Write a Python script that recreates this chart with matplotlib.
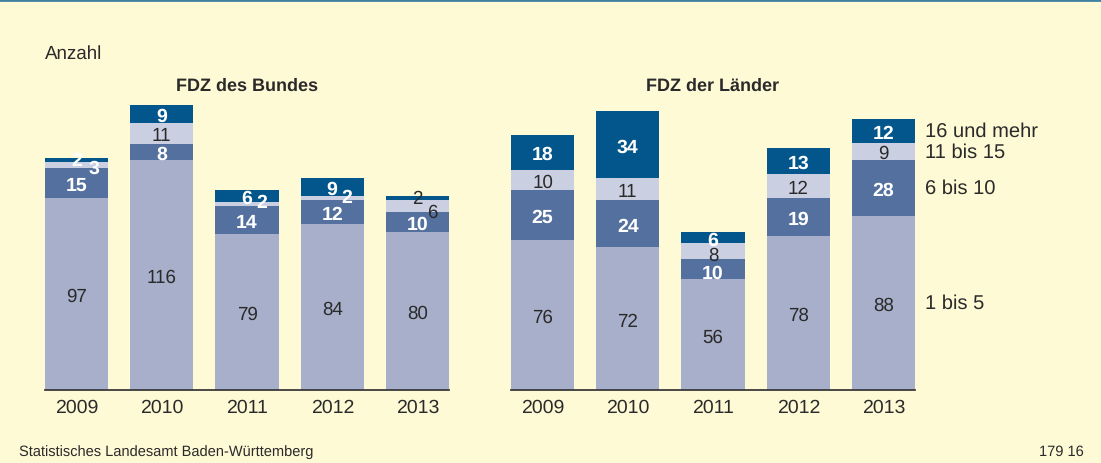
import matplotlib
matplotlib.use("Agg")
import matplotlib.pyplot as plt
from matplotlib.lines import Line2D

plt.rcParams['font.family'] = ['Liberation Sans', 'DejaVu Sans']
plt.rcParams['text.hinting'] = 'no_hinting'

years = ['2009', '2010', '2011', '2012', '2013']
series_names = ['1 bis 5', '6 bis 10', '11 bis 15', '16 und mehr']

# FDZ des Bundes
bund_1_5 = [97, 116, 79, 84, 80]
bund_6_10 = [15, 8, 14, 12, 10]
bund_11_15 = [3, 11, 2, 2, 6]
bund_16 = [2, 9, 6, 9, 2]

# FDZ der Länder
laender_1_5 = [76, 72, 56, 78, 88]
laender_6_10 = [25, 24, 10, 19, 28]
laender_11_15 = [10, 11, 8, 12, 9]
laender_16 = [18, 34, 6, 13, 12]

colors = ['#a8afca', '#53709f', '#cbcfe2', '#02568b']
bg = '#fffad6'
dark = '#2a2a2a'

# label tweaks for thin segments: (panel, year, series) -> dx px, dy px, colour, weight
tweaks = {
    (0, 0, 2): (17, -1, 'white', 'bold'),
    (0, 0, 3): (0, 2, 'white', 'bold'),
    (0, 2, 2): (15, 4, 'white', 'bold'),
    (0, 3, 2): (15, 3, 'white', 'bold'),
    (0, 4, 3): (0, 2, dark, 'normal'),
    (0, 4, 2): (15, -4, dark, 'normal'),
    (1, 2, 3): (0, 0, 'white', 'bold'),
    (1, 2, 2): (0, -2, dark, 'normal'),
    (1, 2, 1): (0, -2, 'white', 'bold'),
}

fig = plt.figure(figsize=(11.01, 4.64), dpi=100, facecolor=bg)
fig.add_artist(Line2D([0, 1], [1 - 1 / 464, 1 - 1 / 464], color='#3f81a3', lw=2))

W, H = 1101, 464
width = 0.74
panels = [
    ('FDZ des Bundes', [bund_1_5, bund_6_10, bund_11_15, bund_16], 45),
    ('FDZ der Länder', [laender_1_5, laender_6_10, laender_11_15, laender_16], 511),
]

for p, (title, data, left) in enumerate(panels):
    ax = fig.add_axes([left / W, 73 / H, 404 / W, 297 / H])
    ax.set_facecolor(bg)
    x = list(range(len(years)))
    bottoms = [0] * len(years)
    for s, vals in enumerate(data):
        ax.bar(x, vals, width, bottom=bottoms, color=colors[s], linewidth=0)
        for i, v in enumerate(vals):
            cy = bottoms[i] + v / 2
            if s in (1, 3):
                col, wt = 'white', 'bold'
            else:
                col, wt = dark, 'normal'
            dx, dy = 0, 0
            if (p, i, s) in tweaks:
                dx, dy, col, wt = tweaks[(p, i, s)]
            ax.annotate(str(v), xy=(i, cy), xytext=(dx * 0.72, dy * 0.72),
                        textcoords='offset points', ha='center',
                        va='center_baseline',
                        fontsize=14 if wt == 'bold' else 13.5,
                        color=col, fontweight=wt, annotation_clip=False)
            if p == 1 and i == len(years) - 1:
                ax.annotate(series_names[s], xy=(i + width / 2, cy),
                            xytext=(7, 0), textcoords='offset points',
                            ha='left', va='center', fontsize=14.5,
                            color=dark, annotation_clip=False)
        bottoms = [b + v for b, v in zip(bottoms, vals)]

    ax.set_xlim(-width / 2, len(years) - 1 + width / 2)
    ax.set_ylim(0, 150)
    ax.set_xticks(x)
    ax.set_xticklabels(years, fontsize=14, color=dark)
    ax.tick_params(axis='x', length=0, pad=6)
    ax.set_yticks([])
    for side in ['left', 'right', 'top']:
        ax.spines[side].set_visible(False)
    ax.spines['bottom'].set_color('#3a3a3a')
    ax.spines['bottom'].set_linewidth(1.3)

    cx = (left + 202) / W
    fig.text(cx, 1 - 86 / H, title, ha='center', va='center',
             fontsize=13, fontweight='bold', color=dark)

fig.text(45 / W, 1 - 54 / H, 'Anzahl', ha='left', va='center',
         fontsize=13.5, color=dark)
fig.text(19 / W, 1 - 452 / H, 'Statistisches Landesamt Baden-Württemberg',
         ha='left', va='center', fontsize=10.5, color=dark)
fig.text(1084 / W, 1 - 452 / H, '179 16', ha='right', va='center',
         fontsize=10.5, color=dark)

fig.savefig('out.png', dpi=100, facecolor=bg)
